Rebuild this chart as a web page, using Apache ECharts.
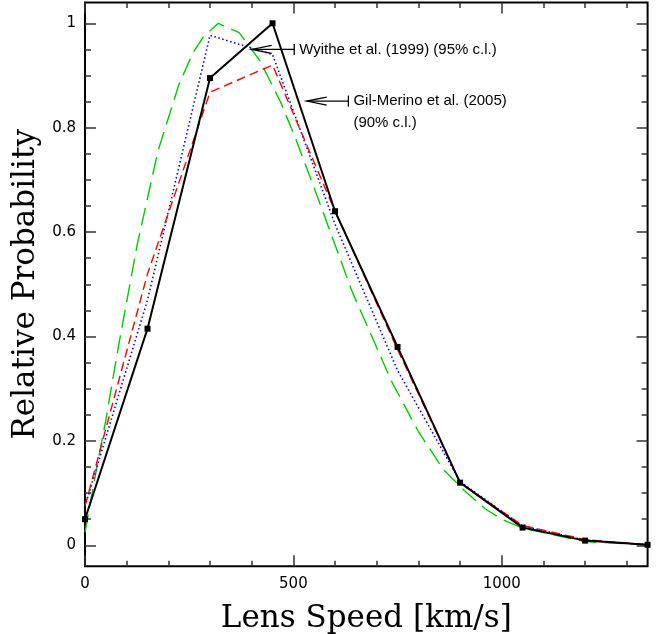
<!DOCTYPE html>
<html>
<head>
<meta charset="utf-8">
<script src="https://cdn.jsdelivr.net/npm/echarts@6/dist/echarts.min.js"></script>
<style>
html,body{margin:0;padding:0;background:#fff;}
#chart{width:670px;height:634px;}
</style>
</head>
<body>
<div id="chart"></div>
<script>
// ---- data ----
const xValues = [0, 150, 300, 450, 600, 750, 900, 1050, 1200, 1350];
const blackValues = [0.05, 0.415, 0.895, 1.0, 0.64, 0.38, 0.12, 0.034, 0.009, 0.001];
const redValues = [0.075, 0.52, 0.868, 0.92, 0.64, 0.375, 0.12, 0.038, 0.011, 0.001];
const blueValues = [0.075, 0.47, 0.977, 0.94, 0.615, 0.335, 0.122, 0.037, 0.010, 0.001];
const greenX = [0, 25, 50, 80, 125, 175, 225, 260, 285, 320, 370, 420, 470, 505, 560, 640, 735, 800, 860, 910, 960, 1000, 1050, 1200, 1350];
const greenY = [0.025, 0.135, 0.24, 0.38, 0.575, 0.755, 0.882, 0.945, 0.975, 1.0, 0.982, 0.928, 0.848, 0.78, 0.663, 0.488, 0.315, 0.218, 0.145, 0.105, 0.07, 0.05, 0.033, 0.007, 0.001];

const xMajorTicks = [0, 500, 1000];
const xMinorTicks = [100, 200, 300, 400, 600, 700, 800, 900, 1100, 1200, 1300];
const yMajorTicks = [0, 0.2, 0.4, 0.6, 0.8, 1];
const yMinorTicks = [0.05, 0.1, 0.15, 0.25, 0.3, 0.35, 0.45, 0.5, 0.55, 0.65, 0.7, 0.75, 0.85, 0.9, 0.95];

const annText = ['Wyithe et al. (1999) (95% c.l.)', 'Gil-Merino et al. (2005)\n(90% c.l.)'];
const annTipX = [400, 532];
const annBarX = [502, 632];
const annY = [0.950, 0.851];

const xName = 'Lens Speed [km/s]';
const yName = 'Relative Probability';

// ---- chart ----
const chart = echarts.init(document.getElementById('chart'), null, {renderer: 'canvas'});
const X_MIN = 0, X_MAX = 1350, Y_MIN = -0.04, Y_MAX = 1.04;
const tickColor = '#333';
const labelFont = {fontFamily: 'DejaVu Sans', fontSize: 15, color: '#000'};
const nameFont = {fontFamily: 'DejaVu Serif', fontSize: 31, color: '#000'};
const plainNum = v => String(Math.round(v * 1000) / 1000);

function xAxisDef(pos, ticks, len, withLabel) {
  const a = {
    type: 'value', position: pos, min: X_MIN, max: X_MAX,
    axisLine: {show: false, onZero: false}, splitLine: {show: false},
    axisTick: {show: true, inside: true, length: len, customValues: ticks, lineStyle: {color: tickColor, width: 1.5}},
    axisLabel: withLabel ? Object.assign({show: true, margin: 10, customValues: ticks, formatter: plainNum}, labelFont) : {show: false}
  };
  if (withLabel) {
    a.name = xName; a.nameLocation = 'middle'; a.nameGap = 37; a.nameTextStyle = nameFont;
  }
  return a;
}
function yAxisDef(pos, ticks, len, withLabel) {
  const a = {
    type: 'value', position: pos, min: Y_MIN, max: Y_MAX,
    axisLine: {show: false, onZero: false}, splitLine: {show: false},
    axisTick: {show: true, inside: true, length: len, customValues: ticks, lineStyle: {color: tickColor, width: 1.5}},
    axisLabel: withLabel ? Object.assign({show: true, margin: 9, customValues: ticks, formatter: plainNum}, labelFont) : {show: false}
  };
  if (withLabel) {
    a.name = yName; a.nameLocation = 'middle'; a.nameGap = 37; a.nameRotate = 90; a.nameTextStyle = nameFont;
  }
  return a;
}

const pairs = (xs, ys) => xs.map((x, i) => [x, ys[i]]);

const option = {
  animation: false,
  backgroundColor: '#fff',
  grid: {left: 85, right: 22.4, top: 2.4, bottom: 67.8, containLabel: false, outerBoundsMode: 'none',
    show: true, borderColor: '#000', borderWidth: 2, backgroundColor: 'transparent'},
  xAxis: [
    xAxisDef('bottom', xMajorTicks, 11, true),
    xAxisDef('bottom', xMinorTicks, 5.5, false),
    xAxisDef('top', xMajorTicks, 11, false),
    xAxisDef('top', xMinorTicks, 5.5, false)
  ],
  yAxis: [
    yAxisDef('left', yMajorTicks, 11, true),
    yAxisDef('left', yMinorTicks, 6, false),
    yAxisDef('right', yMajorTicks, 11, false),
    yAxisDef('right', yMinorTicks, 6, false)
  ],
  series: [
    {
      name: 'green', type: 'line', data: pairs(greenX, greenY), showSymbol: false, symbol: 'none',
      lineStyle: {color: '#00c800', width: 1.4, type: [18, 8]}, z: 2
    },
    {
      name: 'blue', type: 'line', data: pairs(xValues, blueValues), showSymbol: false, symbol: 'none',
      lineStyle: {color: '#0000ff', width: 1.6, type: [1.5, 2.6]}, z: 3
    },
    {
      name: 'red', type: 'line', data: pairs(xValues, redValues), showSymbol: false, symbol: 'none',
      lineStyle: {color: '#ff0000', width: 1.4, type: [9, 5]}, z: 4
    },
    {
      name: 'black', type: 'line', data: pairs(xValues, blackValues), symbol: 'rect', symbolSize: 6,
      itemStyle: {color: '#000'}, lineStyle: {color: '#000', width: 2}, z: 5
    },
    {
      name: 'annotations', type: 'custom', silent: true, clip: false, z: 6,
      data: annTipX.map((x, i) => [x, annY[i], annBarX[i]]),
      renderItem: function (params, api) {
        const i = params.dataIndex;
        const tip = api.coord([api.value(0), api.value(1)]);
        const bar = api.coord([api.value(2), api.value(1)]);
        const st = {stroke: '#000', lineWidth: 1.3, fill: null};
        return {
          type: 'group',
          children: [
            {type: 'line', shape: {x1: tip[0], y1: tip[1], x2: bar[0], y2: bar[1]}, style: st},
            {type: 'polyline', shape: {points: [[tip[0] + 20, tip[1] - 4], [tip[0], tip[1]], [tip[0] + 20, tip[1] + 4]]}, style: st},
            {type: 'line', shape: {x1: bar[0], y1: bar[1] - 5.5, x2: bar[0], y2: bar[1] + 5.5}, style: st},
            {type: 'text', x: bar[0] + 5, y: bar[1] - 11,
              style: {text: annText[i], fontFamily: 'Liberation Sans', fontSize: 15, lineHeight: 22, fill: '#000', align: 'left', verticalAlign: 'top'}}
          ]
        };
      }
    }
  ]
};
chart.setOption(option);
</script>
</body>
</html>
